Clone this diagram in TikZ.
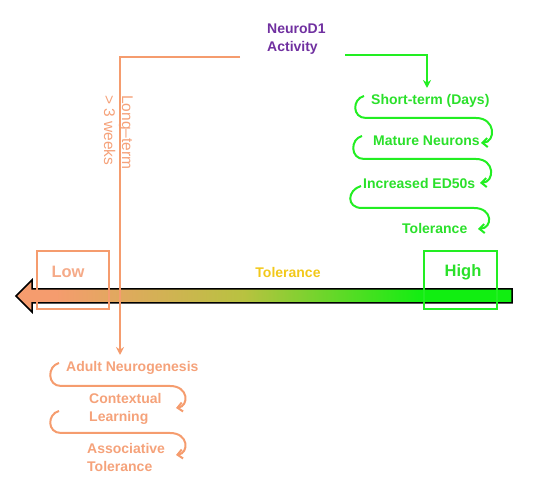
\documentclass[tikz,border=0pt]{standalone}
\usepackage{fontspec}
\setmainfont{Liberation Sans}
\usetikzlibrary{arrows.meta}
\definecolor{orc}{HTML}{F59C6E}
\definecolor{ortx}{HTML}{F5A27A}
\definecolor{lowtx}{HTML}{F5AA88}
\definecolor{grc}{HTML}{22EE22}
\definecolor{grtx}{HTML}{2AE02A}
\definecolor{pur}{HTML}{7030A0}
\definecolor{yel}{HTML}{F2C81A}
\definecolor{olv}{HTML}{B8C240}
\definecolor{arrgr}{HTML}{11EE11}
\pgfdeclarehorizontalshading{tolshade}{100bp}{color(0bp)=(orc); color(29bp)=(orc); color(48bp)=(olv); color(66bp)=(arrgr); color(100bp)=(arrgr)}
\begin{document}
\begin{tikzpicture}[x=1pt,y=-1pt,
  txt/.style={font=\bfseries\fontsize{14}{18}\selectfont, inner sep=0pt, align=left},
  gline/.style={draw=grc, line width=2pt},
  oline/.style={draw=orc, line width=2pt},
  barb/.style={-{Straight Barb[length=5pt,width=9pt]}},
  tipd/.style={-{Stealth[length=8pt,width=8pt]}}]
\useasboundingbox (0,0) rectangle (550,478);

% big gradient arrow
\shadedraw[shading=tolshade, draw=black, line width=1.5pt, line join=miter]
  (512,289) -- (32,289) -- (32,280) -- (16,296) -- (32,312) -- (32,303) -- (512,303) -- cycle;

% boxes
\draw[orc, line width=1.3pt] (37,251) rectangle (109,309);
\draw[grc, line width=1.3pt] (424,251) rectangle (497,309);
\node[font=\bfseries\fontsize{16.5}{18}\selectfont, text=lowtx] (low) at (68,272) {Low};
\node[font=\bfseries\fontsize{16.5}{18}\selectfont, text=grtx] (high) at (463,272) {High};
\node[font=\bfseries\fontsize{14}{18}\selectfont, text=yel] (tol) at (288,272) {Tolerance};

% top
\node[txt, text=pur, anchor=north west] (nd) at (267,24) {NeuroD1\\Activity};
\coordinate (oStart) at (240,57);
\coordinate (oBend) at (120,57);
\coordinate (gStart) at (345,55);
\coordinate (gBend) at (427,55);

% long-term label
\node[font=\fontsize{15.5}{18}\selectfont, text=ortx, rotate=-90, anchor=north west, inner sep=0pt, align=left] (lt) at (133,95) {Long–term\\> 3 weeks};

% green column
\node[txt, text=grtx, anchor=west] (g1) at (371,101) {Short-term (Days)};
\node[txt, text=grtx, anchor=west] (g2) at (373,141) {Mature Neurons};
\node[txt, text=grtx, anchor=west] (g3) at (363,183) {Increased ED50s};
\node[txt, text=grtx, anchor=west] (g4) at (402,228) {Tolerance};

% orange column
\node[txt, text=ortx, anchor=west] (o1) at (66,368) {Adult Neurogenesis};
\node[txt, text=ortx, anchor=north west] (o2) at (89,393) {Contextual\\Learning};
\node[txt, text=ortx, anchor=north west] (o3) at (87,443) {Associative\\Tolerance};

% connectors
\draw[oline, tipd] (oStart) -- (oBend) -- (oBend |- 0,355);
\draw[gline, tipd] (gStart) -- (gBend) -- (gBend |- 0,88);

\draw[gline, barb] (364,96) .. controls (352,99) and (352,118) .. (366,118) -- (476,118) .. controls (496,118) and (496,142) .. (481,143);
\draw[gline, barb] (362,136) .. controls (350,139) and (350,159) .. (364,159) -- (476,159) .. controls (495,159) and (495,182) .. (480,183);
\draw[gline, barb] (361,186) .. controls (347,190) and (346,208) .. (362,208) -- (474,208) .. controls (493,208) and (493,228) .. (478,229);

\draw[oline, barb] (59,363) .. controls (47,366) and (47,386) .. (61,386) -- (170,386) .. controls (189,386) and (189,406) .. (176,408);
\draw[oline, barb] (59,411) .. controls (47,414) and (47,433) .. (61,433) -- (170,433) .. controls (189,433) and (189,453) .. (176,455);
\end{tikzpicture}
\end{document}
